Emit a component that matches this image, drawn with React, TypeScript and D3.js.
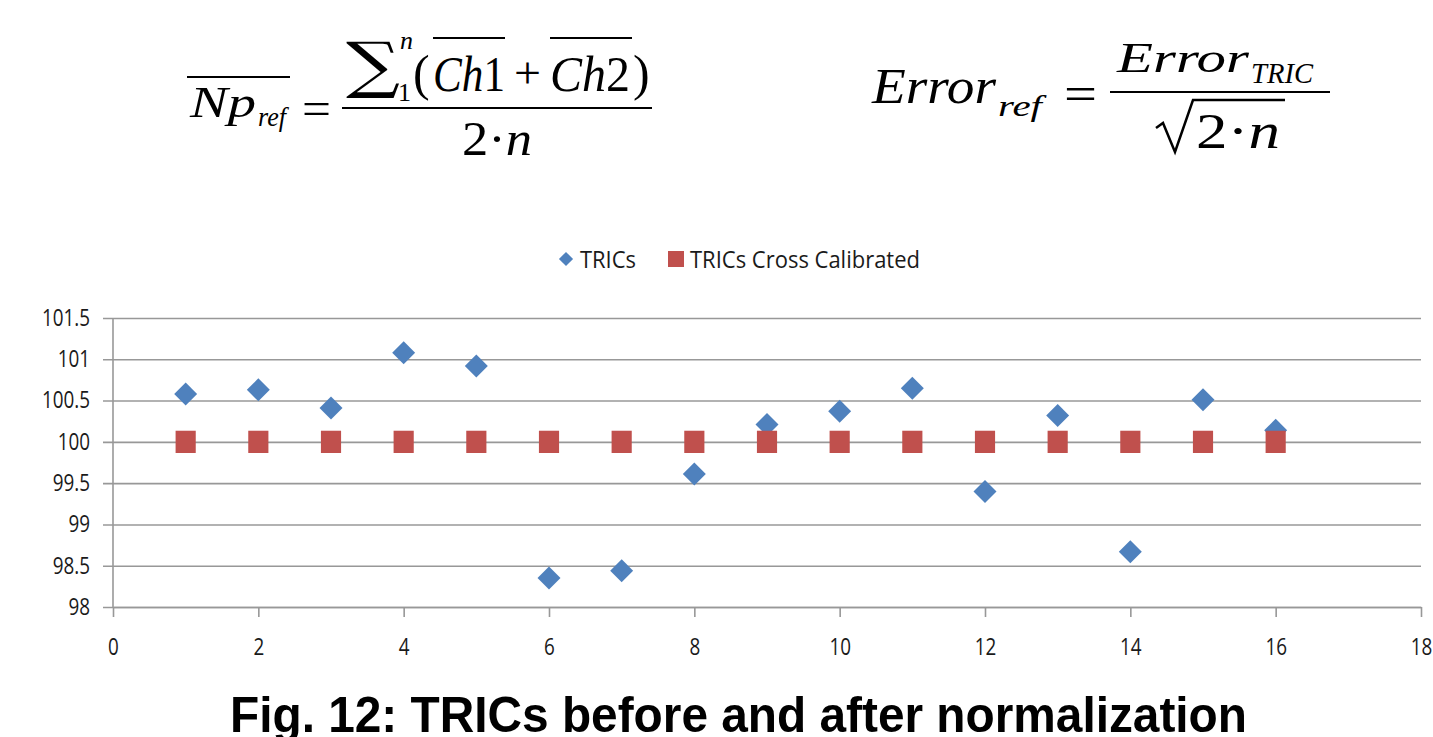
import React, {useEffect, useRef} from 'react';
import * as d3 from "d3";

// measurement index (x) and the two series
const xValues = [1, 2, 3, 4, 5, 6, 7, 8, 9, 10, 11, 12, 13, 14, 15, 16];
const tricsValues = [100.58, 100.63, 100.41, 101.08, 100.92, 98.35, 98.44, 99.61, 100.21, 100.37, 100.65, 99.40, 100.32, 98.67, 100.51, 100.14];
const crossCalibratedValues = [100, 100, 100, 100, 100, 100, 100, 100, 100, 100, 100, 100, 100, 100, 100, 100];

const seriesNames = ["TRICs", "TRICs Cross Calibrated"];
const xTicks = [0, 2, 4, 6, 8, 10, 12, 14, 16, 18];
const yTicks = [98, 98.5, 99, 99.5, 100, 100.5, 101, 101.5];
const yTickLabels = ["98", "98.5", "99", "99.5", "100", "100.5", "101", "101.5"];
const caption = "Fig. 12: TRICs before and after normalization";

const BLUE = "#4F81BD";
const RED = "#C0504D";
const GRID = "#989898";
const SERIF = "'Liberation Serif', 'Times New Roman', serif";
const SANS = "'Open Sans', 'Noto Sans', sans-serif";
// the source picture has narrow, tall glyphs
const SQUEEZE = 0.82;

const App: React.FC = () => {
    const ref = useRef<SVGSVGElement | null>(null);

    useEffect(() => {
        document.body.style.margin = "0";
        const svg = d3.select(ref.current);
        svg.selectAll("*").remove();

        const left = 113, right = 1421, top = 318, bottom = 607;

        const xScale = d3.scaleLinear().domain([0, 18]).range([left, right]);
        const yScale = d3.scaleLinear().domain([98, 101.5]).range([bottom, top]);

        //horizontal grid lines + y tick labels
        const yAxis = svg.append("g")
            .attr("transform", `translate(${left - 10},0)`)
            .call(d3.axisLeft(yScale)
                .tickValues(yTicks)
                .tickFormat((_d: any, i: number) => yTickLabels[i])
                .tickSize(-(right - left + 10))
                .tickPadding(13));
        yAxis.select(".domain").remove();
        yAxis.selectAll(".tick line").attr("stroke", GRID).attr("stroke-width", 1.6);
        yAxis.selectAll(".tick text")
            .attr("fill", "#1a1a1a")
            .attr("x", -13 / SQUEEZE)
            .attr("transform", `scale(${SQUEEZE},1)`)
            .style("font-family", SANS)
            .style("font-size", "23px");

        //vertical axis line
        svg.append("line")
            .attr("x1", left).attr("x2", left)
            .attr("y1", top).attr("y2", bottom)
            .attr("stroke", GRID).attr("stroke-width", 1.6);

        //x axis
        const xAxis = svg.append("g")
            .attr("transform", `translate(0,${bottom})`)
            .call(d3.axisBottom(xScale)
                .tickValues(xTicks)
                .tickSize(10)
                .tickSizeOuter(0)
                .tickPadding(22));
        xAxis.select(".domain").attr("stroke", GRID).attr("stroke-width", 1.6);
        xAxis.selectAll(".tick line").attr("stroke", GRID).attr("stroke-width", 1.6);
        xAxis.selectAll(".tick text")
            .attr("fill", "#1a1a1a")
            .attr("transform", `scale(${SQUEEZE},1)`)
            .style("font-family", SANS)
            .style("font-size", "23px");

        const diamond = d3.symbol().type(d3.symbolSquare).size(264);
        const square = d3.symbol().type(d3.symbolSquare).size(441);

        //TRICs (diamonds)
        svg.append("g").selectAll("path")
            .data(xValues.map((x, i) => ({x, y: tricsValues[i]})))
            .join("path")
            .attr("d", diamond() as string)
            .attr("fill", BLUE)
            .attr("transform", (d: any) => `translate(${xScale(d.x)},${yScale(d.y)}) rotate(45)`);

        //cross calibrated (squares)
        svg.append("g").selectAll("path")
            .data(xValues.map((x, i) => ({x, y: crossCalibratedValues[i]})))
            .join("path")
            .attr("d", square() as string)
            .attr("fill", RED)
            .attr("transform", (d: any) => `translate(${xScale(d.x)},${yScale(d.y)}) scale(0.96,1.06)`);

        //legend
        const legend = svg.append("g").style("font-family", SANS).style("font-size", "24px");
        legend.append("path")
            .attr("d", d3.symbol().type(d3.symbolSquare).size(100)() as string)
            .attr("fill", BLUE)
            .attr("transform", "translate(566,259) rotate(45)");
        legend.append("text").attr("x", 580).attr("y", 268).attr("fill", "#1a1a1a")
            .attr("textLength", 56).attr("lengthAdjust", "spacingAndGlyphs").text(seriesNames[0]);
        legend.append("path")
            .attr("d", d3.symbol().type(d3.symbolSquare).size(256)() as string)
            .attr("fill", RED)
            .attr("transform", "translate(676,259)");
        legend.append("text").attr("x", 690).attr("y", 268).attr("fill", "#1a1a1a")
            .attr("textLength", 230).attr("lengthAdjust", "spacingAndGlyphs").text(seriesNames[1]);

        //formula 1: mean Np_ref
        const f1 = svg.append("g").attr("fill", "#000").style("font-family", SERIF);
        f1.append("line").attr("x1", 187).attr("x2", 290).attr("y1", 77).attr("y2", 77).attr("stroke", "#000").attr("stroke-width", 2);
        f1.append("text").attr("x", 190).attr("y", 117).style("font-size", "44px").style("font-style", "italic")
            .attr("textLength", 66).attr("lengthAdjust", "spacingAndGlyphs").text("Np");
        f1.append("text").attr("x", 258).attr("y", 126).style("font-size", "28px").style("font-style", "italic")
            .attr("textLength", 28).attr("lengthAdjust", "spacingAndGlyphs").text("ref");
        f1.append("text").attr("x", 302).attr("y", 124).style("font-size", "46px")
            .attr("textLength", 29).attr("lengthAdjust", "spacingAndGlyphs").text("=");
        f1.append("line").attr("x1", 342).attr("x2", 652).attr("y1", 108).attr("y2", 108).attr("stroke", "#000").attr("stroke-width", 2);
        f1.append("text").attr("x", 346).attr("y", 86).style("font-size", "62px").style("font-family", "'DejaVu Serif', serif")
            .attr("textLength", 54).attr("lengthAdjust", "spacingAndGlyphs").text("∑");
        f1.append("text").attr("x", 400).attr("y", 49).style("font-size", "26px").style("font-style", "italic").text("n");
        f1.append("text").attr("x", 398).attr("y", 101).style("font-size", "26px").text("1");
        f1.append("text").attr("x", 413).attr("y", 90).style("font-size", "50px").text("(");
        f1.append("line").attr("x1", 433).attr("x2", 505).attr("y1", 38).attr("y2", 38).attr("stroke", "#000").attr("stroke-width", 2);
        const ch1 = f1.append("text").attr("x", 433).attr("y", 91).style("font-size", "50px")
            .attr("textLength", 72).attr("lengthAdjust", "spacingAndGlyphs");
        ch1.append("tspan").style("font-style", "italic").text("Ch");
        ch1.append("tspan").text("1");
        f1.append("text").attr("x", 514).attr("y", 88).style("font-size", "44px")
            .attr("textLength", 27).attr("lengthAdjust", "spacingAndGlyphs").text("+");
        f1.append("line").attr("x1", 550).attr("x2", 632).attr("y1", 38).attr("y2", 38).attr("stroke", "#000").attr("stroke-width", 2);
        const ch2 = f1.append("text").attr("x", 550).attr("y", 91).style("font-size", "50px")
            .attr("textLength", 80).attr("lengthAdjust", "spacingAndGlyphs");
        ch2.append("tspan").style("font-style", "italic").text("Ch");
        ch2.append("tspan").text("2");
        f1.append("text").attr("x", 633).attr("y", 90).style("font-size", "50px").text(")");
        const den1 = f1.append("text").attr("x", 462).attr("y", 155).style("font-size", "48px")
            .attr("textLength", 70).attr("lengthAdjust", "spacingAndGlyphs");
        den1.append("tspan").text("2·");
        den1.append("tspan").style("font-style", "italic").text("n");

        //formula 2: Error_ref
        const f2 = svg.append("g").attr("fill", "#000").style("font-family", SERIF);
        f2.append("text").attr("x", 872).attr("y", 103).style("font-size", "50px").style("font-style", "italic")
            .attr("textLength", 124).attr("lengthAdjust", "spacingAndGlyphs").text("Error");
        f2.append("text").attr("x", 998).attr("y", 116).style("font-size", "30px").style("font-style", "italic")
            .attr("textLength", 44).attr("lengthAdjust", "spacingAndGlyphs").text("ref");
        f2.append("text").attr("x", 1064).attr("y", 110).style("font-size", "48px")
            .attr("textLength", 33).attr("lengthAdjust", "spacingAndGlyphs").text("=");
        f2.append("line").attr("x1", 1110).attr("x2", 1330).attr("y1", 92).attr("y2", 92).attr("stroke", "#000").attr("stroke-width", 2);
        f2.append("text").attr("x", 1117).attr("y", 72).style("font-size", "42px").style("font-style", "italic")
            .attr("textLength", 132).attr("lengthAdjust", "spacingAndGlyphs").text("Error");
        f2.append("text").attr("x", 1251).attr("y", 83).style("font-size", "29px").style("font-style", "italic")
            .attr("textLength", 62).attr("lengthAdjust", "spacingAndGlyphs").text("TRIC");
        f2.append("path")
            .attr("d", "M1156,128 L1163,123 L1175,152 L1193,100 L1285,100")
            .attr("fill", "none").attr("stroke", "#000").attr("stroke-width", 2.5).attr("stroke-linejoin", "miter");
        const den2 = f2.append("text").attr("x", 1196).attr("y", 148).style("font-size", "50px")
            .attr("textLength", 84).attr("lengthAdjust", "spacingAndGlyphs");
        den2.append("tspan").text("2·");
        den2.append("tspan").style("font-style", "italic").text("n");

        //caption
        svg.append("text")
            .attr("x", 230).attr("y", 732)
            .attr("textLength", 1017).attr("lengthAdjust", "spacingAndGlyphs")
            .style("font-family", "'Liberation Sans', Arial, sans-serif")
            .style("font-weight", "bold")
            .style("font-size", "50px")
            .attr("fill", "#000")
            .text(caption);
    }, []);

    return (
        <svg ref={ref} width={1433} height={737} style={{display: "block", background: "#fff"}}></svg>
    );
};

export default App;
